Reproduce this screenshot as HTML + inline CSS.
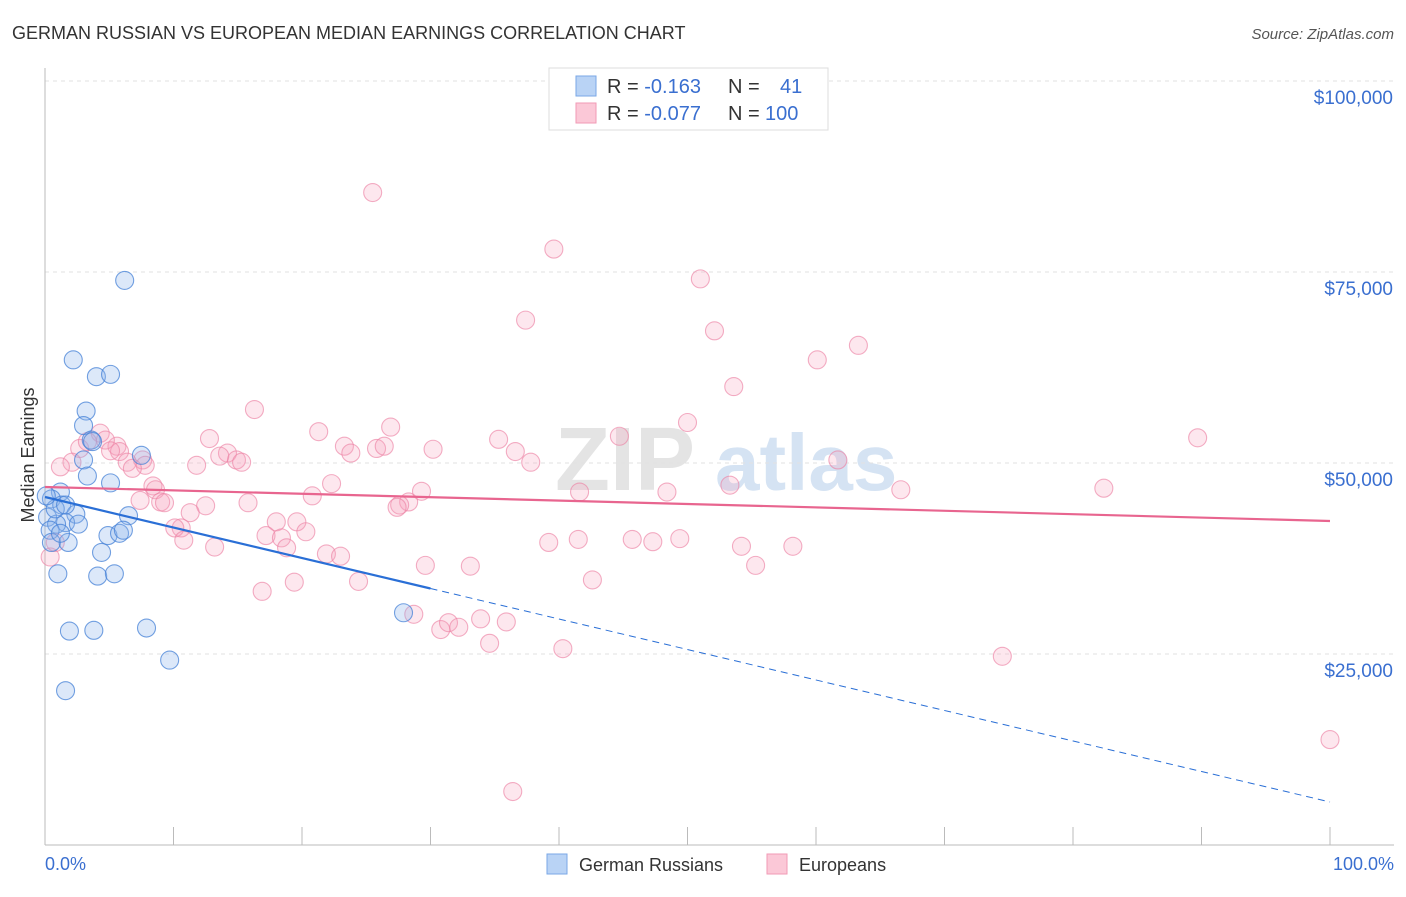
<!DOCTYPE html>
<html><head><meta charset="utf-8"><style>
body{margin:0;background:#fff;font-family:"Liberation Sans",sans-serif}
svg text{font-family:"Liberation Sans",sans-serif}
</style></head><body>
<svg id="chart" width="1406" height="892">
<text x="12" y="39" font-size="18" fill="#333">GERMAN RUSSIAN VS EUROPEAN MEDIAN EARNINGS CORRELATION CHART</text>
<text x="1394" y="39" font-size="15" fill="#555" font-style="italic" text-anchor="end">Source: ZipAtlas.com</text>
<g><text x="555" y="490" font-size="90" fill="#e4e4e4" font-family="Liberation Serif" font-weight="bold">ZIP</text><text x="715" y="490" font-size="80" fill="#d5e3f3" font-weight="bold">atlas</text></g>
<g id="grid"></g><g id="axes"></g><g id="marks"></g>
<text transform="translate(34,455) rotate(-90)" font-size="18" fill="#333" text-anchor="middle">Median Earnings</text>
<text x="45" y="870" font-size="18" fill="#3a6fd0">0.0%</text>
<text x="1394" y="870" font-size="18" fill="#3a6fd0" text-anchor="end">100.0%</text>
<g>
<rect x="549" y="68" width="279" height="62" fill="#fff" stroke="#ddd"/>
<rect x="576" y="76" width="20" height="20" fill="#b9d3f5" stroke="#7aa7e6"/>
<rect x="576" y="103" width="20" height="20" fill="#fbc8d7" stroke="#f19ab5"/>
<text x="607" y="93" font-size="20" fill="#333">R = <tspan fill="#3a6fd0">-0.163</tspan><tspan x="728">N = </tspan><tspan x="780" fill="#3a6fd0">41</tspan></text>
<text x="607" y="120" font-size="20" fill="#333">R = <tspan fill="#3a6fd0">-0.077</tspan><tspan x="728">N = </tspan><tspan x="765" fill="#3a6fd0">100</tspan></text>
</g>
<g>
<rect x="547" y="854" width="20" height="20" fill="#b9d3f5" stroke="#7aa7e6"/>
<text x="579" y="871" font-size="18" fill="#333">German Russians</text>
<rect x="767" y="854" width="20" height="20" fill="#fbc8d7" stroke="#f19ab5"/>
<text x="799" y="871" font-size="18" fill="#333">Europeans</text>
</g>
</svg>
<script>
const yTicks=[25000,50000,75000,100000];
const yTickLabels=["$25,000","$50,000","$75,000","$100,000"];
const xTicks=[0,10,20,30,40,50,60,70,80,90,100];
const blueX=[6.2,2.2,4.0,5.1,3.2,3.0,3.6,3.7,7.5,3.0,3.3,5.1,1.2,0.5,1.3,2.4,0.2,6.5,1.6,2.6,0.9,0.4,0.5,1.8,4.9,5.8,6.1,4.4,1.0,4.1,5.4,1.9,3.8,7.9,27.9,9.7,1.6,0.8,1.2,0.1,1.6];
const blueY=[73900,63500,61300,61600,56800,54900,53000,52800,51000,50400,48300,47400,46200,45300,44500,43300,42900,43100,42200,42000,42000,41200,39600,39600,40500,40800,41200,38300,35500,35200,35500,28000,28100,28400,30400,24200,20200,44000,40800,45700,44500];
const pinkX=[25.5,39.6,51.0,37.4,52.1,63.3,60.1,53.6,16.3,21.3,26.9,50.0,35.3,44.7,89.7,12.8,23.3,23.8,25.8,26.4,30.2,14.2,14.9,15.3,13.6,11.8,36.6,37.8,61.7,5.6,4.3,5.8,7.6,7.8,6.4,2.7,3.3,2.1,4.7,5.1,6.8,8.4,8.6,9.0,9.3,7.4,22.3,20.8,29.3,28.3,41.6,48.4,53.3,66.6,82.4,27.6,27.4,12.5,11.3,15.8,18.0,19.6,20.3,17.2,18.4,18.8,13.2,10.6,10.1,10.8,21.9,23.0,29.6,33.1,39.2,41.5,45.7,47.3,49.4,54.2,58.2,55.3,42.6,24.4,19.4,16.9,28.7,30.8,31.4,32.2,33.9,35.9,34.6,40.3,74.5,100.0,36.4,0.4,0.8,1.2];
const pinkY=[85400,78000,74100,68700,67300,65400,63500,60000,57000,54100,54700,55300,53100,53500,53300,53200,52200,51300,51900,52200,51800,51300,50400,50100,50900,49700,51500,50100,50400,52200,53900,51500,50400,49700,50100,51900,52800,50100,53000,51600,49300,47000,46500,44900,44800,45100,47300,45700,46300,44900,46200,46200,47100,46500,46700,44500,44200,44400,43500,44800,42300,42300,41000,40500,40200,38900,39000,41500,41500,39900,38100,37800,36600,36500,39600,40000,40000,39700,40100,39100,39100,36600,34700,34500,34400,33200,30200,28200,29100,28500,29600,29200,26400,25700,24700,13800,7000,37700,39600,49500];
const blueFit=[45550,5630];
const pinkFit=[46860,42410];
const X0=45,X1=1330,Y0=845;
const sx=v=>X0+(X1-X0)*v/100;
const sy=v=>Y0-v*191/25000;
const NS="http://www.w3.org/2000/svg";
function mk(tag,attrs,parent){const e=document.createElementNS(NS,tag);for(const k in attrs)e.setAttribute(k,attrs[k]);parent.appendChild(e);return e;}
const grid=document.getElementById('grid'),axes=document.getElementById('axes'),marks=document.getElementById('marks');
yTicks.forEach((t,i)=>{
 const l=mk('line',{x1:X0,x2:1394,y1:sy(t),y2:sy(t),stroke:'#e2e2e2','stroke-dasharray':'4,4'},grid);
 
 
 const tx=mk('text',{x:1393,y:sy(t)+23,'font-size':19,fill:'#3a6fd0','text-anchor':'end'},grid);
 tx.textContent=yTickLabels[i];
 
 
});
const ya=mk('line',{x1:X0,x2:X0,y1:68,y2:Y0,stroke:'#bbb'},axes);


const xa=mk('line',{x1:X0,x2:1394,y1:Y0,y2:Y0,stroke:'#bbb'},axes);


xTicks.forEach(t=>{
 const l=mk('line',{x1:sx(t),x2:sx(t),y1:Y0,y2:Y0-18,stroke:'#bbb'},axes);
 
 
});
pinkX.forEach((x,i)=>{
 const c=mk('circle',{cx:sx(x),cy:sy(pinkY[i]),r:9,fill:'rgba(246,160,188,0.25)',stroke:'rgba(236,130,165,0.65)','stroke-width':1.1},marks);
 
 
});
blueX.forEach((x,i)=>{
 const c=mk('circle',{cx:sx(x),cy:sy(blueY[i]),r:9,fill:'rgba(140,180,235,0.3)',stroke:'rgba(70,130,215,0.75)','stroke-width':1.1},marks);
 
 
});
const bAt=p=>blueFit[0]+(blueFit[1]-blueFit[0])*p/100;
const pAt=p=>pinkFit[0]+(pinkFit[1]-pinkFit[0])*p/100;
const pl=mk('line',{x1:sx(0),y1:sy(pAt(0)),x2:sx(100),y2:sy(pAt(100)),stroke:'#e8658f','stroke-width':2.2},marks);


const bl=mk('line',{x1:sx(0),y1:sy(bAt(0)),x2:sx(30),y2:sy(bAt(30)),stroke:'#2a6fd6','stroke-width':2.2},marks);


const bd=mk('line',{x1:sx(30),y1:sy(bAt(30)),x2:sx(100),y2:sy(bAt(100)),stroke:'#2a6fd6','stroke-width':1,'stroke-dasharray':'7,5'},marks);


</script>
</body></html>
